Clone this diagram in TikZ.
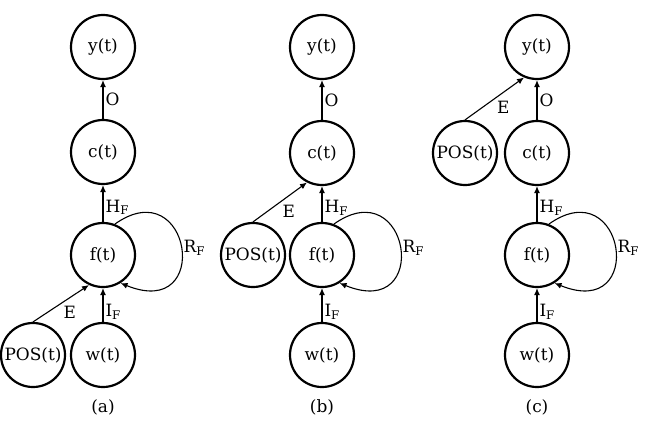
\documentclass[tikz,border=0pt]{standalone}
\usepackage{fontspec}
\setmainfont{DejaVu Serif}
\usepackage{tikz}
\usetikzlibrary{arrows.meta,positioning,calc}
\newcommand{\unitnode}[3]{%
  \node[draw,circle,line width=2.2bp,minimum size=64bp,inner sep=0pt,
        font=\fontsize{17}{20}\selectfont,#3] (#1) {#2};}

\begin{document}
\begin{tikzpicture}[x=1bp,y=1bp,>={Latex[length=7bp,width=6bp]},
  link/.style={->,line width=1.1bp},
  lbl/.style={font=\fontsize{17}{20}\selectfont,inner sep=2bp}]
  \useasboundingbox (0,0) rectangle (645,427);
  % (a)
  \unitnode{ya}{y(t)}{at={(103,380)}}
  \unitnode{ca}{c(t)}{at={(103,275)}}
  \unitnode{fa}{f(t)}{at={(103,172)}}
  \unitnode{wa}{w(t)}{at={(103,72)}}
  \unitnode{posa}{POS(t)}{at={(33,72)}}
  \draw[link] (wa) -- node[lbl,right,pos=0.3]{I\textsubscript{F}} (fa);
  \draw[link] (posa.north) -- node[lbl,below right]{E} (fa.245);
  \draw[link] (fa) -- node[lbl,right,pos=0.4]{H\textsubscript{F}} (ca);
  \draw[link] (ca) -- node[lbl,right]{O} (ya);
  \draw[link] (fa.69) .. controls +(76,54) and +(93,-38) .. node[lbl,right]{R\textsubscript{F}} (fa.-58);
  \node[lbl] (capa) at (103,20) {(a)};
  % (b)
  \unitnode{yb}{y(t)}{at={(322,380)}}
  \unitnode{cb}{c(t)}{at={(322,274)}}
  \unitnode{fb}{f(t)}{at={(322,172)}}
  \unitnode{wb}{w(t)}{at={(322,72)}}
  \unitnode{posb}{POS(t)}{at={(253,172)}}
  \draw[link] (wb) -- node[lbl,right,pos=0.3]{I\textsubscript{F}} (fb);
  \draw[link] (fb) -- node[lbl,right,pos=0.4]{H\textsubscript{F}} (cb);
  \draw[link] (posb.north) -- node[lbl,below right]{E} (cb.243);
  \draw[link] (cb) -- node[lbl,right]{O} (yb);
  \draw[link] (fb.69) .. controls +(76,54) and +(93,-38) .. node[lbl,right]{R\textsubscript{F}} (fb.-58);
  \node[lbl] (capb) at (322,20) {(b)};
  % (c)
  \unitnode{yc}{y(t)}{at={(537,380)}}
  \unitnode{cc}{c(t)}{at={(537,274)}}
  \unitnode{fc}{f(t)}{at={(537,172)}}
  \unitnode{wc}{w(t)}{at={(537,72)}}
  \unitnode{posc}{POS(t)}{at={(465,274)}}
  \draw[link] (wc) -- node[lbl,right,pos=0.3]{I\textsubscript{F}} (fc);
  \draw[link] (fc) -- node[lbl,right,pos=0.4]{H\textsubscript{F}} (cc);
  \draw[link] (cc) -- node[lbl,right]{O} (yc);
  \draw[link] (posc.north) -- node[lbl,below right]{E} (yc.247);
  \draw[link] (fc.69) .. controls +(76,54) and +(93,-38) .. node[lbl,right]{R\textsubscript{F}} (fc.-58);
  \node[lbl] (capc) at (537,20) {(c)};
\end{tikzpicture}
\end{document}
